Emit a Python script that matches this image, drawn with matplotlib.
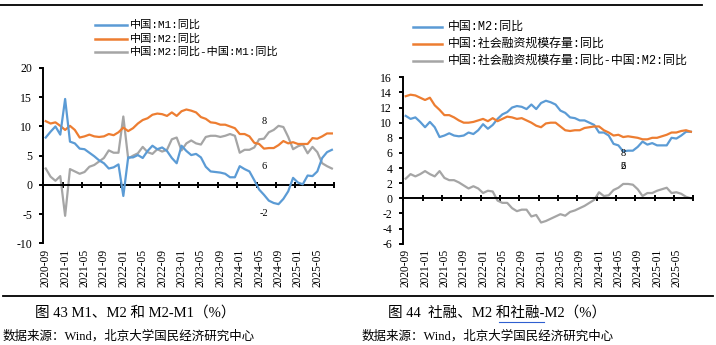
import matplotlib
matplotlib.use("Agg")
import matplotlib.pyplot as plt
import matplotlib.transforms as mtransforms
from matplotlib.lines import Line2D
import pandas as pd

# ---- data -------------------------------------------------------------
months = [p.strftime("%Y-%m") for p in pd.period_range("2020-09", "2025-08", freq="M")]
tick_labels = months[::4]

m1_yoy = [8.1, 9.1, 10.0, 8.6, 14.7, 7.4, 7.1, 6.2, 6.1, 5.5, 4.9, 4.2,
          3.7, 2.8, 3.0, 3.5, -1.9, 4.7, 4.7, 5.1, 4.6, 5.8, 6.7, 6.1,
          6.4, 5.8, 4.6, 3.7, 6.7, 5.8, 5.1, 5.3, 4.7, 3.1, 2.3, 2.2,
          2.1, 1.9, 1.3, 1.3, 3.2, 2.7, 2.3, 0.8, -0.8, -1.7, -2.7, -3.1,
          -3.3, -2.4, -1.1, 1.2, 0.4, 0.1, 1.6, 1.5, 2.3, 4.6, 5.6, 6.0]

m2_yoy = [10.9, 10.5, 10.7, 10.1, 9.4, 10.1, 9.4, 8.1, 8.3, 8.6, 8.3, 8.2,
          8.3, 8.7, 8.5, 9.0, 9.8, 9.2, 9.7, 10.5, 11.1, 11.4, 12.0, 12.2,
          12.1, 11.8, 12.4, 11.8, 12.6, 12.9, 12.7, 12.4, 11.6, 11.3, 10.7, 10.6,
          10.3, 10.3, 10.0, 9.7, 8.7, 8.7, 8.3, 7.2, 7.0, 6.2, 6.3, 6.3,
          6.8, 7.5, 7.1, 7.3, 7.0, 7.0, 7.0, 8.0, 7.9, 8.3, 8.8, 8.8]

m2_minus_m1 = [2.8, 1.4, 0.7, 1.5, -5.3, 2.7, 2.3, 1.9, 2.2, 3.1, 3.4, 4.0,
               4.6, 5.9, 5.5, 5.5, 11.7, 4.5, 5.0, 5.4, 6.5, 5.6, 5.3, 6.1,
               5.7, 6.0, 7.8, 8.1, 5.9, 7.1, 7.6, 7.1, 6.9, 8.2, 8.4, 8.4,
               8.2, 8.4, 8.7, 8.4, 5.5, 6.0, 6.0, 6.4, 7.8, 7.9, 9.0, 9.4,
               10.1, 9.9, 8.2, 6.1, 6.6, 6.9, 5.4, 6.5, 5.6, 3.7, 3.2, 2.8]

tsf_yoy = [13.5, 13.7, 13.6, 13.3, 13.0, 13.3, 12.3, 11.7, 11.0, 11.0, 10.7, 10.3,
           10.0, 10.0, 10.1, 10.3, 10.5, 10.2, 10.6, 10.2, 10.5, 10.8, 10.7, 10.5,
           10.6, 10.3, 10.0, 9.6, 9.4, 9.9, 10.0, 10.0, 9.5, 9.0, 8.9, 9.0,
           9.0, 9.3, 9.4, 9.5, 9.5, 9.0, 8.7, 8.3, 8.4, 8.1, 8.2, 8.1,
           8.0, 7.8, 7.8, 8.0, 8.0, 8.2, 8.4, 8.7, 8.7, 8.9, 9.0, 8.8]

tsf_minus_m2 = [2.6, 3.2, 2.9, 3.2, 3.6, 3.2, 2.9, 3.6, 2.7, 2.4, 2.4, 2.1,
                1.7, 1.3, 1.6, 1.3, 0.7, 1.0, 0.9, -0.3, -0.6, -0.6, -1.3, -1.7,
                -1.5, -1.5, -2.4, -2.2, -3.2, -3.0, -2.7, -2.4, -2.1, -2.3, -1.8, -1.6,
                -1.3, -1.0, -0.6, -0.2, 0.8, 0.3, 0.4, 1.1, 1.4, 1.9, 1.9, 1.8,
                1.2, 0.3, 0.7, 0.7, 1.0, 1.2, 1.4, 0.7, 0.8, 0.6, 0.2, 0.0]

left_legend = ["中国:M1:同比", "中国:M2:同比", "中国:M2:同比-中国:M1:同比"]
right_legend = ["中国:M2:同比", "中国:社会融资规模存量:同比", "中国:社会融资规模存量:同比-中国:M2:同比"]

# ---- styling ------------------------------------------------------------
BLUE, ORANGE, GRAY = "#5B9BD5", "#ED7D31", "#A5A5A5"
SERIF = ["Liberation Serif", "Noto Sans CJK SC"]
LEGEND_FONT = ["Liberation Mono", "Noto Sans CJK SC"]
plt.rcParams["font.family"] = SERIF
plt.rcParams["axes.unicode_minus"] = False

W, H = 716, 345
fig = plt.figure(figsize=(W / 100, H / 100), dpi=100)
fig.patch.set_facecolor("white")


def fx(x):
    return x / W


def fy(y):
    return 1 - y / H


def make_axes(rect_px, ylim, ystep):
    x0, y0, x1, y1 = rect_px
    ax = fig.add_axes([fx(x0), fy(y1), (x1 - x0) / W, (y1 - y0) / H])
    ax.set_xlim(-0.5, len(months) - 0.5)
    ax.set_ylim(*ylim)
    ax.set_yticks(range(ylim[0], ylim[1] + 1, ystep))
    for s in ("top", "right"):
        ax.spines[s].set_visible(False)
    ax.spines["left"].set_linewidth(1.4)
    ax.spines["bottom"].set_linewidth(1.4)
    ax.spines["bottom"].set_position(("data", 0))
    # category boundaries every 4 months, crossing the zero axis
    ax.set_xticks([b - 0.5 for b in range(0, len(months) + 1, 4)])
    ax.tick_params(axis="x", direction="inout", length=5, width=1.4,
                   labelbottom=False)
    ax.tick_params(axis="y", direction="out", length=3, width=1.4,
                   labelsize=8.5, pad=5)
    trans = mtransforms.blended_transform_factory(ax.transData, ax.transAxes)
    for lbl in tick_labels:
        ax.text(months.index(lbl), -0.03, lbl, transform=trans, rotation=90,
                ha="center", va="top", fontsize=8.3)
    ax.patch.set_alpha(0)
    return ax


x = list(range(len(months)))

# ---- left chart: M1, M2, M2-M1 ------------------------------------------------
axL = make_axes((43.3, 68, 334.3, 243.3), (-10, 20), 5)
axL.plot(x, m2_minus_m1, color=GRAY, lw=1.6, zorder=2)
axL.plot(x, m2_yoy, color=ORANGE, lw=1.6, zorder=3)
axL.plot(x, m1_yoy, color=BLUE, lw=1.6, zorder=4)
for txt, yv in (("8", 10.8), ("6", 3.2), ("-2", -4.9)):
    axL.text(45, yv, txt, ha="center", va="center", fontsize=7.5)

# ---- right chart: M2, TSF, TSF-M2 --------------------------------------------
axR = make_axes((403.3, 77.3, 693.3, 243.7), (-6, 16), 2)
axR.plot(x, tsf_minus_m2, color=GRAY, lw=1.6, zorder=2)
axR.plot(x, m2_yoy, color=BLUE, lw=1.6, zorder=3)
axR.plot(x, tsf_yoy, color=ORANGE, lw=1.6, zorder=4)
axR.text(45, 5.87, "8", ha="center", va="center", fontsize=7.5)
axR.text(45, 4.15, "2", ha="center", va="center", fontsize=7.5)
axR.text(45, 4.15, "6", ha="center", va="center", fontsize=7.5)

# ---- legends ----------------------------------------------------------------
def draw_legend(x0, x1, xt, rows, labels, size):
    for yrow, label, col in zip(rows, labels, (BLUE, ORANGE, GRAY)):
        fig.add_artist(Line2D([fx(x0), fx(x1)], [fy(yrow), fy(yrow)],
                              color=col, lw=1.8, transform=fig.transFigure))
        fig.text(fx(xt), fy(yrow), label, ha="left", va="center",
                 fontsize=size, family=LEGEND_FONT)


draw_legend(95, 127, 130, (25, 38.5, 51.7), left_legend, 8.0)
draw_legend(413, 442, 448, (26.7, 44, 61), right_legend, 8.6)

# ---- page rules and captions --------------------------------------------------
fig.add_artist(Line2D([fx(0), fx(702)], [fy(5), fy(5)], color="black", lw=1.3,
                      transform=fig.transFigure))
fig.add_artist(Line2D([fx(3), fx(713)], [fy(296), fy(296)], color="black", lw=1.3,
                      transform=fig.transFigure))

fig.text(fx(35), fy(313), "图 43 M1、M2 和 M2-M1（%）", ha="left", va="center",
         fontsize=10.5)
fig.text(fx(388), fy(313), "图 44  社融、M2 和社融-M2（%）", ha="left", va="center",
         fontsize=10.5)
fig.add_artist(Line2D([fx(499), fx(544)], [fy(322), fy(322)], color="#2F5FD0",
                      lw=0.8, transform=fig.transFigure))
fig.text(fx(3), fy(336), "数据来源：Wind，北京大学国民经济研究中心", ha="left",
         va="center", fontsize=9)
fig.text(fx(362), fy(336), "数据来源：Wind，北京大学国民经济研究中心", ha="left",
         va="center", fontsize=9)

fig.savefig("out.png", dpi=100, facecolor="white")
